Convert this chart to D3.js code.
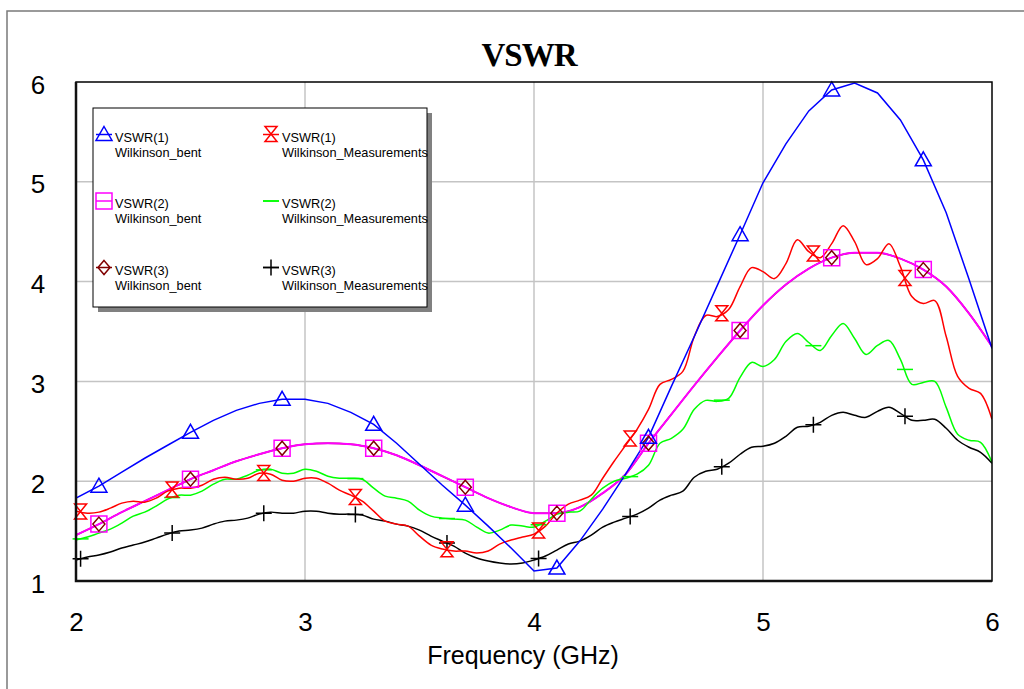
<!DOCTYPE html>
<html>
<head>
<meta charset="utf-8">
<script src="https://cdn.jsdelivr.net/npm/d3@7"></script>
<style>
  html, body { margin: 0; padding: 0; background: #fff; }
  svg { display: block; }
</style>
</head>
<body>
<svg id="chart" width="1024" height="689"></svg>
<script>
// ---------------- DATA ----------------
const chartTitle = "VSWR";
const xAxisTitle = "Frequency (GHz)";
const xTicks = [2, 3, 4, 5, 6];
const yTicks = [1, 2, 3, 4, 5, 6];

// simulated (Wilkinson_bent), 0.1 GHz steps
const freqSim = [2.0,2.1,2.2,2.3,2.4,2.5,2.6,2.7,2.8,2.9,3.0,3.1,3.2,3.3,3.4,3.5,3.6,3.7,3.8,3.9,
                 4.0,4.1,4.2,4.3,4.4,4.5,4.6,4.7,4.8,4.9,5.0,5.1,5.2,5.3,5.4,5.5,5.6,5.7,5.8,5.9,6.0];
const vswr1Bent = [1.83,1.95,2.09,2.23,2.36,2.49,2.61,2.71,2.78,2.82,2.82,2.78,2.69,2.57,2.38,2.17,1.96,1.76,1.55,1.33,
                   1.10,1.13,1.40,1.72,2.07,2.44,2.95,3.45,3.96,4.47,4.99,5.38,5.71,5.92,5.99,5.89,5.62,5.22,4.69,4.02,3.33];
const vswr2Bent = [1.46,1.57,1.69,1.80,1.91,2.02,2.11,2.20,2.27,2.33,2.37,2.38,2.37,2.33,2.26,2.16,2.05,1.94,1.83,1.74,
                   1.68,1.68,1.74,1.88,2.07,2.38,2.67,2.96,3.24,3.51,3.76,3.97,4.13,4.24,4.29,4.29,4.23,4.12,3.95,3.68,3.35];
const vswr3Bent = [1.46,1.57,1.69,1.80,1.91,2.02,2.11,2.20,2.27,2.33,2.37,2.38,2.37,2.33,2.26,2.16,2.05,1.94,1.83,1.74,
                   1.68,1.68,1.74,1.88,2.07,2.38,2.67,2.96,3.24,3.51,3.76,3.97,4.13,4.24,4.29,4.29,4.23,4.12,3.95,3.68,3.35];

// measured (Wilkinson_Measurements), 0.05 GHz steps
const freqMeas = [2.00,2.05,2.10,2.15,2.20,2.25,2.30,2.35,2.40,2.45,2.50,2.55,2.60,2.65,2.70,2.75,2.80,2.85,2.90,2.95,
                  3.00,3.05,3.10,3.15,3.20,3.25,3.30,3.35,3.40,3.45,3.50,3.55,3.60,3.65,3.70,3.75,3.80,3.85,3.90,3.95,
                  4.00,4.05,4.10,4.15,4.20,4.25,4.30,4.35,4.40,4.45,4.50,4.55,4.60,4.65,4.70,4.75,4.80,4.85,4.90,4.95,
                  5.00,5.05,5.10,5.15,5.20,5.25,5.30,5.35,5.40,5.45,5.50,5.55,5.60,5.65,5.70,5.75,5.80,5.85,5.90,5.95,6.00];
const vswr1Meas = [1.70,1.68,1.69,1.73,1.78,1.80,1.79,1.83,1.90,1.93,1.93,1.96,2.02,2.04,2.02,2.03,2.08,2.07,2.01,2.00,
                   2.03,2.03,1.98,1.91,1.86,1.80,1.70,1.60,1.57,1.55,1.45,1.36,1.32,1.30,1.30,1.28,1.30,1.37,1.41,1.44,
                   1.47,1.55,1.68,1.77,1.81,1.86,2.03,2.20,2.36,2.52,2.72,2.97,3.02,3.10,3.45,3.66,3.65,3.72,3.95,4.14,
                   4.10,4.03,4.18,4.42,4.30,4.24,4.38,4.56,4.40,4.17,4.23,4.38,4.15,3.85,3.78,3.81,3.45,3.05,2.93,2.88,2.62];
const vswr2Meas = [1.41,1.44,1.48,1.52,1.58,1.65,1.69,1.75,1.82,1.86,1.86,1.90,1.97,2.02,2.02,2.06,2.11,2.12,2.08,2.08,
                   2.12,2.10,2.05,2.03,2.03,2.02,1.93,1.85,1.83,1.80,1.71,1.65,1.63,1.62,1.61,1.54,1.48,1.51,1.56,1.55,
                   1.54,1.60,1.67,1.69,1.70,1.82,1.93,2.00,2.03,2.07,2.16,2.38,2.43,2.52,2.72,2.81,2.80,2.83,3.04,3.19,
                   3.15,3.22,3.40,3.48,3.39,3.31,3.46,3.58,3.43,3.27,3.36,3.41,3.22,2.97,2.99,3.00,2.74,2.47,2.41,2.39,2.19];
const vswr3Meas = [1.21,1.24,1.26,1.29,1.33,1.36,1.39,1.43,1.47,1.50,1.51,1.53,1.57,1.60,1.61,1.63,1.67,1.69,1.68,1.68,
                   1.70,1.70,1.68,1.67,1.67,1.66,1.62,1.60,1.57,1.55,1.51,1.45,1.40,1.35,1.28,1.23,1.20,1.18,1.17,1.18,
                   1.21,1.25,1.31,1.37,1.40,1.46,1.54,1.59,1.63,1.67,1.73,1.81,1.86,1.90,2.04,2.10,2.12,2.18,2.27,2.34,
                   2.35,2.38,2.45,2.54,2.55,2.59,2.66,2.69,2.66,2.64,2.70,2.74,2.68,2.61,2.61,2.62,2.53,2.41,2.34,2.29,2.18];

const simMarkerFreqs = [2.1,2.5,2.9,3.3,3.7,4.1,4.5,4.9,5.3,5.7];
const measMarkerFreqs = [2.02,2.42,2.82,3.22,3.62,4.02,4.42,4.82,5.22,5.62];

const legendNames = ["VSWR(1)", "VSWR(1)", "VSWR(2)", "VSWR(2)", "VSWR(3)", "VSWR(3)"];
const legendSources = ["Wilkinson_bent", "Wilkinson_Measurements", "Wilkinson_bent", "Wilkinson_Measurements", "Wilkinson_bent", "Wilkinson_Measurements"];

// ---------------- STYLE ----------------
const markerPaths = {
  triangle: "M0,-8L8,6L-8,6Z",
  square: "M-8,-8H8V8H-8Z",
  diamond: "M0,-7L6,0L0,7L-6,0Z",
  hourglass: "M-6,-8H6L-6,7H6Z",
  plus: "M0,-8V8M-8,0H8",
  dash: "M-8,0H8"
};

const series = [
  {f: freqSim,  v: vswr3Bent, color: "#800000", marker: "diamond",  mf: simMarkerFreqs,  curve: d3.curveMonotoneX, w: 1.5},
  {f: freqSim,  v: vswr2Bent, color: "#ff00ff", marker: "square",   mf: simMarkerFreqs,  curve: d3.curveMonotoneX, w: 2},
  {f: freqMeas, v: vswr3Meas, color: "#000000", marker: "plus",     mf: measMarkerFreqs, curve: d3.curveCatmullRom, w: 1.5},
  {f: freqMeas, v: vswr2Meas, color: "#00ff00", marker: "dash",     mf: measMarkerFreqs, curve: d3.curveCatmullRom, w: 1.5},
  {f: freqMeas, v: vswr1Meas, color: "#ff0000", marker: "hourglass",mf: measMarkerFreqs, curve: d3.curveCatmullRom, w: 1.5},
  {f: freqSim,  v: vswr1Bent, color: "#0000ff", marker: "triangle", mf: simMarkerFreqs,  curve: d3.curveLinear, w: 1.5}
];

const svg = d3.select("#chart");
const font = "'Liberation Sans', Arial, Helvetica, sans-serif";

// outer frame
svg.append("rect").attr("x", 7).attr("y", 11).attr("width", 1040).attr("height", 700)
  .attr("fill", "none").attr("stroke", "#7a7a7a").attr("stroke-width", 1.5);

const plot = {left: 76, right: 992, top: 82, bottom: 581};
const x = d3.scaleLinear().domain([2, 6]).range([plot.left, plot.right]);
const y = d3.scaleLinear().domain([1, 6]).range([plot.bottom, plot.top]);

svg.append("defs").append("clipPath").attr("id", "clip")
  .append("rect").attr("x", plot.left).attr("y", plot.top)
  .attr("width", plot.right - plot.left).attr("height", plot.bottom - plot.top);

// grid
const grid = svg.append("g");
grid.selectAll("line.v").data(xTicks.filter(t => t > 2 && t < 6)).join("line")
  .attr("x1", d => x(d)).attr("x2", d => x(d)).attr("y1", plot.top).attr("y2", plot.bottom)
  .attr("stroke", "#c4c4c4").attr("stroke-width", 1.5);
grid.selectAll("line.h").data(yTicks.filter(t => t > 1 && t < 6)).join("line")
  .attr("y1", d => y(d)).attr("y2", d => y(d)).attr("x1", plot.left).attr("x2", plot.right)
  .attr("stroke", "#c4c4c4").attr("stroke-width", 1.5);

// axes (labels only)
const xAxis = svg.append("g").attr("transform", `translate(0,${plot.bottom})`)
  .call(d3.axisBottom(x).tickValues(xTicks).tickSize(0).tickPadding(0).tickFormat(d3.format("d")));
xAxis.select(".domain").remove();
xAxis.selectAll("text").attr("y", 50).attr("dy", 0)
  .attr("font-family", font).attr("font-size", 26).attr("fill", "#000");

const yAxis = svg.append("g").attr("transform", `translate(${plot.left},0)`)
  .call(d3.axisLeft(y).tickValues(yTicks).tickSize(0).tickFormat(d3.format("d")));
yAxis.select(".domain").remove();
yAxis.selectAll("text").attr("x", -38).attr("dy", "0.43em").attr("text-anchor", "middle")
  .attr("font-family", font).attr("font-size", 26).attr("fill", "#000");

// title
svg.append("text").attr("x", 529).attr("y", 66).attr("text-anchor", "middle")
  .attr("font-family", "'Liberation Serif', 'Times New Roman', serif").attr("font-weight", "bold")
  .attr("font-size", 33).attr("letter-spacing", -1).text(chartTitle);

svg.append("text").attr("x", 523).attr("y", 664).attr("text-anchor", "middle")
  .attr("font-family", font).attr("font-size", 25).attr("fill", "#000").text(xAxisTitle);

// series lines
const lines = svg.append("g").attr("clip-path", "url(#clip)");
series.forEach(s => {
  const pts = s.f.map((f, i) => [f, s.v[i]]);
  lines.append("path").datum(pts)
    .attr("d", d3.line().x(d => x(d[0])).y(d => y(d[1])).curve(s.curve))
    .attr("fill", "none").attr("stroke", s.color).attr("stroke-width", s.w);
});

// markers
const marks = svg.append("g");
const markerOrder = [1, 0, 2, 3, 4, 5];
markerOrder.forEach(idx => {
  const s = series[idx];
  const interp = d3.scaleLinear().domain(s.f).range(s.v);
  marks.append("g").selectAll("path").data(s.mf).join("path")
    .attr("transform", d => `translate(${x(d)},${y(interp(d))})`)
    .attr("d", markerPaths[s.marker])
    .attr("fill", "none").attr("stroke", s.color).attr("stroke-width", 1.5);
});

// plot frame
svg.append("rect").attr("x", plot.left).attr("y", plot.top)
  .attr("width", plot.right - plot.left).attr("height", plot.bottom - plot.top)
  .attr("fill", "none").attr("stroke", "#000").attr("stroke-width", 1.5);
svg.append("path")
  .attr("d", `M${plot.left},${plot.top}V${plot.bottom}H${plot.right}`)
  .attr("fill", "none").attr("stroke", "#111").attr("stroke-width", 2.5);

// legend
const lg = {x: 93, y: 108, w: 334, h: 199};
svg.append("rect").attr("x", lg.x + 5).attr("y", lg.y + 5).attr("width", lg.w).attr("height", lg.h)
  .attr("fill", "#808080");
svg.append("rect").attr("x", lg.x).attr("y", lg.y).attr("width", lg.w).attr("height", lg.h)
  .attr("fill", "#fff").attr("stroke", "#000").attr("stroke-width", 1);

const legendSeries = [5, 4, 1, 3, 0, 2]; // blue, red, magenta, green, brown, black
legendSeries.forEach((idx, i) => {
  const s = series[idx];
  const col = i % 2, row = Math.floor(i / 2);
  const mx = col === 0 ? 104 : 271;
  const base = 141.5 + row * 66.5;
  const my = base - 7;
  const g = svg.append("g");
  g.append("line").attr("x1", mx - 8).attr("x2", mx + 8).attr("y1", my).attr("y2", my)
    .attr("stroke", s.color).attr("stroke-width", 1.5);
  g.append("path").attr("transform", `translate(${mx},${my})`).attr("d", markerPaths[s.marker])
    .attr("fill", "none").attr("stroke", s.color).attr("stroke-width", 1.5);
  [legendNames[i], legendSources[i]].forEach((t, k) => {
    const tx = g.append("text").attr("x", mx + 11).attr("y", base + k * 15)
      .attr("font-family", font).attr("font-size", 13).attr("fill", "#000").text(t);
    const len = tx.node().getComputedTextLength();
    tx.attr("textLength", len * 0.98).attr("lengthAdjust", "spacingAndGlyphs");
  });
});
</script>
</body>
</html>
